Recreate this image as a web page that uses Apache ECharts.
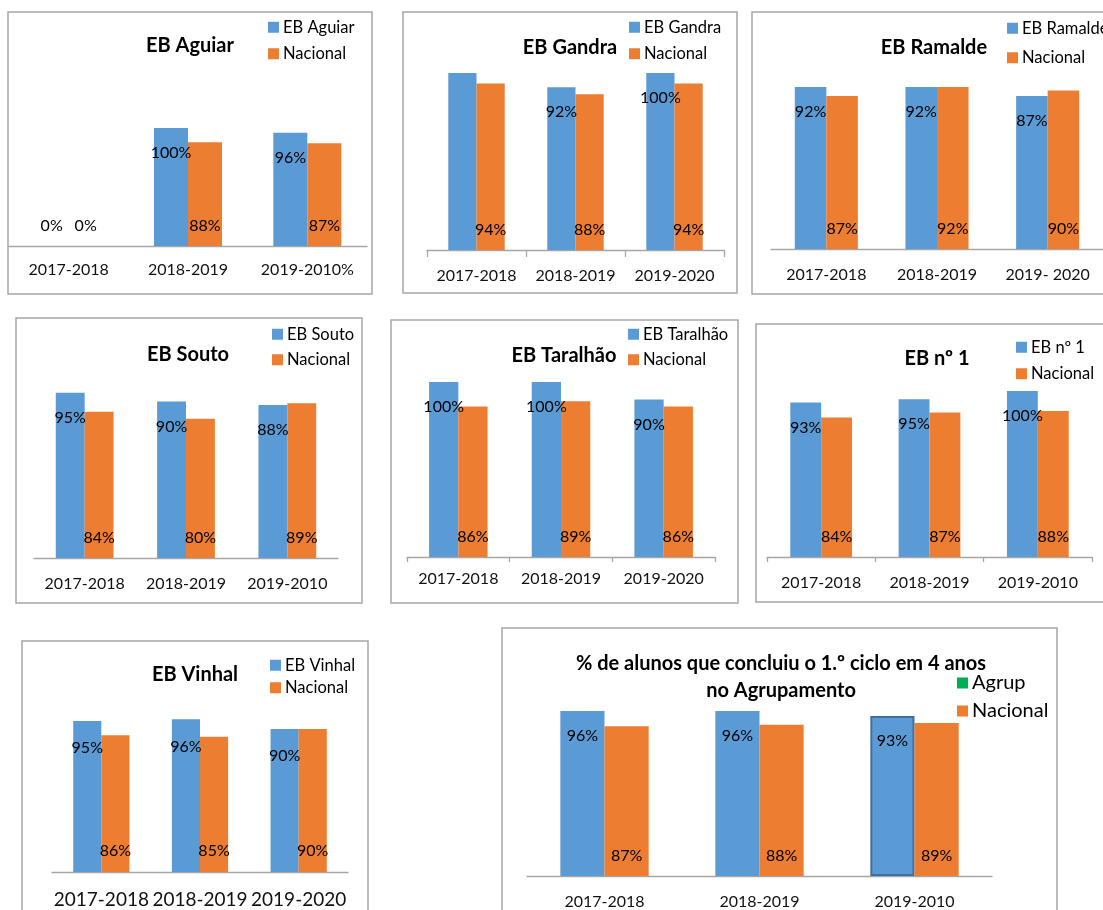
<!DOCTYPE html>
<html><head><meta charset="utf-8">
<script src="https://cdn.jsdelivr.net/npm/echarts@6/dist/echarts.min.js"></script>
<style>html,body{margin:0;padding:0;background:#fff}#c{width:1103px;height:910px}</style>
</head><body><div id="c"></div>
<script>
// ---------- DATA ----------
const aguiarCategories = ['2017-2018', '2018-2019', '2019-2010%'];
const aguiarSchool = [0, 100, 96];
const aguiarNacional = [0, 88, 87];

const gandraCategories = ['2017-2018', '2018-2019', '2019-2020'];
const gandraSchool = [100, 92, 100];
const gandraNacional = [94, 88, 94];
const gandraSchoolLabelShown = [false, true, true];

const ramaldeCategories = ['2017-2018', '2018-2019', '2019- 2020'];
const ramaldeSchool = [92, 92, 87];
const ramaldeNacional = [87, 92, 90];

const soutoCategories = ['2017-2018', '2018-2019', '2019-2010'];
const soutoSchool = [95, 90, 88];
const soutoNacional = [84, 80, 89];

const taralhaoCategories = ['2017-2018', '2018-2019', '2019-2020'];
const taralhaoSchool = [100, 100, 90];
const taralhaoNacional = [86, 89, 86];

const nr1Categories = ['2017-2018', '2018-2019', '2019-2010'];
const nr1School = [93, 95, 100];
const nr1Nacional = [84, 87, 88];

const vinhalCategories = ['2017-2018', '2018-2019', '2019-2020'];
const vinhalSchool = [95, 96, 90];
const vinhalNacional = [86, 85, 90];

const agrupCategories = ['2017-2018', '2018-2019', '2019-2010'];
const agrupSchool = [96, 96, 93];
const agrupNacional = [87, 88, 89];

// ---------- LAYOUT / STYLE ----------
const F = 'Lato';
const BLUE = '#5B9BD5', ORANGE = '#ED7D31', GREEN = '#00B050', GRAY = '#A6A6A6';

const panels = [
  {title:'EB Aguiar', school:'EB Aguiar', cats:aguiarCategories, s:aguiarSchool, n:aguiarNacional,
   box:[8,12,364,282], grid:[9,358,246,118], t:[190,46], lg:[268,27,26], tick:0, catY:270},
  {title:'EB Gandra', school:'EB Gandra', cats:gandraCategories, s:gandraSchool, n:gandraNacional, shown:gandraSchoolLabelShown,
   box:[403,12,334,281], grid:[427,297,250,177], t:[570,48], lg:[629,27,26], tick:7, catY:276},
  {title:'EB Ramalde', school:'EB Ramalde', cats:ramaldeCategories, s:ramaldeSchool, n:ramaldeNacional,
   box:[752,12,400,282], grid:[771,333,249,176], t:[934,48], lg:[1007,28,29], tick:0, catY:275},
  {title:'EB Souto', school:'EB Souto', cats:soutoCategories, s:soutoSchool, n:soutoNacional,
   box:[16,318,346,285], grid:[34,304,558,174], t:[188,355], lg:[272,334,25], tick:0, catY:584},
  {title:'EB Taralhão', school:'EB Taralhão', cats:taralhaoCategories, s:taralhaoSchool, n:taralhaoNacional,
   box:[391,320,347,283], grid:[407,308,557,175], t:[564,356], lg:[628,334,25], tick:5, catY:579},
  {title:'EB nº 1', school:'EB nº 1', cats:nr1Categories, s:nr1School, n:nr1Nacional,
   box:[756,324,400,278], grid:[767,325,557,166], t:[937,359], lg:[1016,347,26], tick:5, catY:583},
  {title:'EB Vinhal', school:'EB Vinhal', cats:vinhalCategories, s:vinhalSchool, n:vinhalNacional,
   box:[22,641,346,300], grid:[52,296,872,159], t:[195,675], lg:[270,665,22], tick:0, catY:900, catFont:19, topDist:19, botDist:13},
  {title:'% de alunos que concluiu o 1.º ciclo em 4 anos\nno Agrupamento', school:'Agrup', legendIcon:GREEN,
   cats:agrupCategories, s:agrupSchool, n:agrupNacional, borderIdx:2,
   box:[502,628,555,300], grid:[527,465,876,172], t:[781,677], lg:[957,683,28], tick:0, catY:902, legendFont:20, lineH:27}
];

const option = {animation:false, title:[], legend:[], grid:[], xAxis:[], yAxis:[], series:[], graphic:[]};

panels.forEach((p, i) => {
  const [gl, gw, base, scale] = p.grid;
  const catFont = p.catFont || 16;
  const legendFont = p.legendFont || 16.5;
  const topDist = p.topDist || 17;
  const botDist = p.botDist || 12;
  const titleFont = 20;

  option.graphic.push({type:'rect', silent:true, z:-10,
    shape:{x:p.box[0], y:p.box[1], width:p.box[2], height:p.box[3]},
    style:{fill:'none', stroke:GRAY, lineWidth:1.5}});

  const lines = p.title.split('\n').length;
  const lh = p.lineH || 22;
  option.title.push({text:p.title, left:p.t[0], top:p.t[1] - (lines*lh)/2, textAlign:'center', padding:0,
    textStyle:{fontFamily:F, fontSize:titleFont, fontWeight:'bold', color:'#000', lineHeight:lh}});

  option.legend.push({orient:'vertical', left:p.lg[0], top:p.lg[1] - legendFont/2, itemGap:p.lg[2] - legendFont,
    itemWidth:11, itemHeight:11, icon:'rect', padding:0, selectedMode:false,
    textStyle:{fontFamily:F, fontSize:legendFont, color:'#000', padding:[0,0,0,-1]},
    data:[p.legendIcon ? {name:p.school, itemStyle:{color:p.legendIcon}} : p.school, 'Nacional']});

  option.grid.push({left:gl, top:base - scale, width:gw, height:scale});
  option.xAxis.push({type:'category', gridIndex:i, data:p.cats,
    axisLine:{lineStyle:{color:GRAY, width:1.3}},
    axisTick:{show:p.tick > 0, length:p.tick, lineStyle:{color:GRAY, width:1.3}},
    axisLabel:{fontFamily:F, fontSize:catFont, color:'#111', margin:p.catY - base - catFont/2, interval:0}});
  option.yAxis.push({type:'value', gridIndex:i, min:0, max:100, show:false});

  const lbl = {show:true, formatter:'{c}%', fontFamily:F, fontSize:16, color:'#000'};
  option.series.push({type:'bar', name:p.school, xAxisIndex:i, yAxisIndex:i, barGap:'0%', barCategoryGap:'43%',
    itemStyle:{color:BLUE},
    label:Object.assign({position:'insideTop', distance:topDist}, lbl),
    data:p.s.map((v, j) => {
      const d = {value:v};
      if (v === 0) d.label = {position:'insideBottom', distance:botDist};
      if (p.shown && !p.shown[j]) d.label = {show:false};
      if (p.borderIdx === j) d.itemStyle = {borderColor:'#3F6F9F', borderWidth:2};
      return d;
    })});
  option.series.push({type:'bar', name:'Nacional', xAxisIndex:i, yAxisIndex:i, barGap:'0%', barCategoryGap:'43%',
    itemStyle:{color:ORANGE},
    label:Object.assign({position:'insideBottom', distance:botDist}, lbl),
    data:p.n.slice()});
});

const chart = echarts.init(document.getElementById('c'), null, {renderer:'canvas'});
chart.setOption(option);
</script>
</body></html>
